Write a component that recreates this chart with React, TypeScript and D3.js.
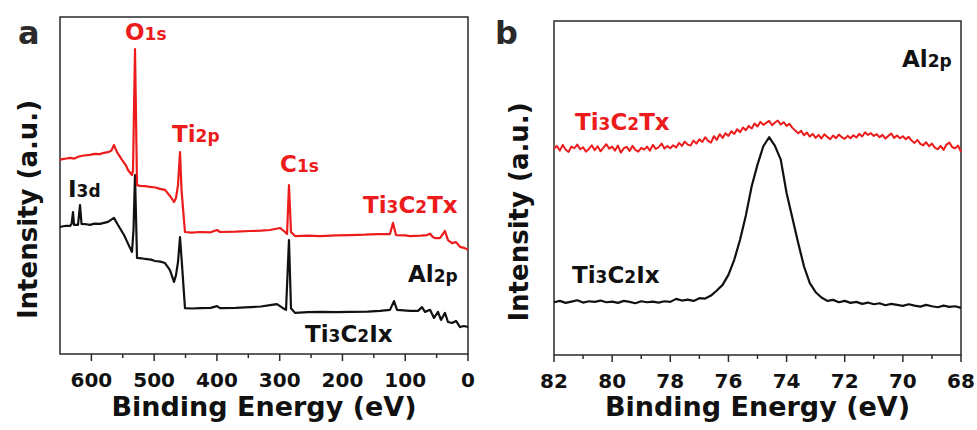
import React from "react";
import * as d3 from "d3";

// survey spectra (binding energy eV, intensity a.u.)
const surveyTx: [number, number][] = [
  [650, 57.6], [645, 57.9], [640.4, 58.0], [634.1, 58.2], [627, 58.0], [620, 58.6], [612, 58.9], [602.2, 59.1],
  [595, 59.4], [586.3, 59.3], [580, 59.7], [573.5, 59.9], [568, 60.4], [564.0, 62.0], [559.2, 59.9],
  [551.2, 57.6], [545, 56.0], [541.7, 54.6], [535.3, 53.1], [533.7, 54.5], [530.5, 90.5], [527.3, 50.1],
  [522.6, 49.9], [515, 49.8], [506.6, 49.6], [498, 49.4], [490.7, 49.0], [482.7, 48.7], [474.8, 46.9],
  [468.4, 45.1], [465.2, 46.3], [462.0, 50.1], [458.8, 59.9], [456.4, 48.7], [453.5, 42.0], [450.9, 36.2],
  [440, 36.0], [426.9, 36.2], [410, 36.1], [399.9, 36.8], [395.1, 36.2], [370, 36.3], [347.3, 36.5],
  [330, 36.6], [315.4, 36.8], [299.5, 37.4], [291.5, 36.2], [288.3, 35.6], [285.2, 50.1], [282.0, 36.2],
  [275.6, 35.0], [255, 35.1], [235.8, 35.0], [210, 35.2], [188.0, 35.3], [165, 35.4], [145.0, 35.6],
  [124.3, 35.6], [119.5, 38.9], [114.7, 35.3], [100, 35.2], [92.4, 35.0], [75, 35.1], [65.3, 35.3],
  [60.5, 35.7], [56, 34.7], [52.6, 34.4], [44.6, 34.4], [36.7, 36.5], [31.9, 33.8], [25.5, 32.9],
  [19.1, 33.2], [12.7, 31.8], [6.4, 31.5], [0, 30.9],
];

const surveyIx: [number, number][] = [
  [650, 37.7], [645, 37.9], [640.4, 38.0], [634.1, 38.0], [631.5, 38.6], [629.3, 42.1], [627.7, 38.3],
  [621.3, 38.3], [618.1, 44.2], [615.7, 38.6], [608, 38.5], [602.2, 38.3], [595, 38.7], [586.3, 38.6],
  [580, 38.9], [573.5, 39.2], [564.0, 40.4], [557.6, 38.3], [548.0, 35.3], [538.5, 31.5], [535.3, 30.3],
  [532.9, 36.8], [530.5, 53.1], [527.3, 28.5], [520, 28.4], [514.6, 28.2], [505, 28.0], [498.7, 27.6],
  [490, 27.4], [482.7, 27.0], [474.8, 24.9], [468.4, 21.4], [465.2, 23.4], [462.0, 27.3], [458.8, 34.7],
  [455.6, 26.4], [450.9, 13.6], [440, 13.5], [426.9, 13.6], [410, 13.7], [399.9, 14.2], [395.1, 13.6],
  [370, 13.7], [347.3, 13.9], [330, 14.1], [315.4, 14.5], [304.3, 14.8], [294.7, 13.6], [289.9, 13.1],
  [285.2, 33.8], [282.0, 13.6], [275.6, 12.2], [255, 12.4], [235.8, 12.5], [210, 12.4], [188.0, 12.5],
  [160, 12.6], [140.2, 12.8], [124.3, 13.1], [117.9, 15.7], [113.1, 13.1], [92.4, 12.8], [79.7, 12.8],
  [73.3, 13.9], [68.5, 12.5], [60.5, 13.1], [54.2, 10.7], [47.8, 12.5], [43.0, 10.1], [36.7, 12.2],
  [31.9, 9.5], [25.5, 9.2], [19.1, 9.8], [12.7, 8.0], [6.4, 8.3], [0, 8.0],
];

// Al 2p region
const al2pTxStart = 82;
const al2pTxStep = 0.1;
const al2pTx = [
  61.8, 62.6, 61.2, 62.9, 61.5, 60.8, 62.4, 61.9, 63.0, 61.6, 62.2, 60.9, 61.7, 62.8, 61.3, 62.5, 61.0, 62.1, 63.1, 61.8, 62.4,
  61.2, 62.7, 60.6, 61.9, 62.3, 61.1, 62.6, 61.4, 60.9, 62.0, 61.5, 62.4, 61.2, 62.9, 61.7, 62.2, 63.3, 61.8, 62.6, 61.9,
  62.8, 62.1, 63.5, 62.6, 63.9, 63.0, 62.7, 64.2, 63.3, 64.6, 63.8, 65.2, 64.1, 63.6, 65.5, 64.4, 66.1, 65.0, 66.4, 65.6,
  67.0, 66.2, 67.6, 66.7, 68.1, 67.3, 68.6, 67.8, 69.3, 68.4, 69.8, 68.9, 69.5, 70.1, 68.8, 69.6, 70.2, 69.0, 69.7, 68.6,
  69.2, 68.0, 67.2, 66.4, 67.1, 65.8, 66.6, 65.4, 66.2, 65.0, 65.9, 64.8, 66.1, 65.3, 64.6, 65.7, 64.9, 66.0, 65.2, 64.7,
  65.6, 64.9, 65.8, 65.1, 66.2, 65.4, 66.7, 65.9, 66.4, 65.6, 66.1, 65.2, 65.9, 64.8, 65.6, 66.3, 65.0, 65.7, 64.9, 65.5,
  64.6, 65.3, 64.2, 63.5, 64.4, 63.2, 62.8, 63.7, 62.5, 63.3, 62.1, 61.6, 62.6, 61.4, 63.0, 63.6, 62.2, 61.9, 62.7, 60.8,
];

const al2pIxStart = 82;
const al2pIxStep = 0.2;
const al2pIx = [
  15.8, 16.2, 15.6, 16.0, 16.4, 15.7, 16.1, 15.9, 16.3, 15.8, 16.0, 15.6, 16.2, 15.9, 15.5, 16.1, 15.8, 16.0, 15.7, 16.1, 15.9,
  16.8, 16.3, 16.6, 16.2, 17.0, 16.9, 17.8, 19.3, 21.0, 24.0,
  28.5, 34.5, 41.8, 50.5, 57.0, 62.5, 65.2, 62.6, 58.5, 48.5,
  41.0, 33.5, 26.5, 21.5, 18.8, 17.2, 16.2, 16.5, 15.8, 16.2,
  15.6, 15.9, 15.3, 15.7, 15.2, 15.5, 14.9, 15.3, 15.0, 14.7,
  15.2, 14.8, 14.5, 15.0, 14.6, 14.3, 14.8, 14.4, 14.6, 14.1,
];

const surveyTicks = [600, 500, 400, 300, 200, 100, 0];
const al2pTicks = [82, 80, 78, 76, 74, 72, 70, 68];

const RED = "#ec1c1c";
const FONT = "'DejaVu Sans', 'Liberation Sans', Arial, sans-serif";

type Part = [string, boolean];
const Label = ({ x, y, parts, color, big = 23, small = 17 }:
  { x: number; y: number; parts: Part[]; color: string; big?: number; small?: number }) => (
  <text x={x} y={y} fill={color} fontFamily={FONT} fontWeight="bold">
    {parts.map((p, i) => (
      <tspan key={i} fontSize={p[1] ? small : big}>{p[0]}</tspan>
    ))}
  </text>
);

const TX: Part[] = [["Ti", false], ["3", true], ["C", false], ["2", true], ["Tx", false]];
const IX: Part[] = [["Ti", false], ["3", true], ["C", false], ["2", true], ["Ix", false]];
const AL: Part[] = [["Al", false], ["2p", true]];

const Frame = ({ x, y, ticks, minor, titleY, yTitleX }: any) => {
  const [x0, x1] = x.range();
  const [y0, y1] = y.range();
  return (
    <g>
      <rect x={x0} y={y1} width={x1 - x0} height={y0 - y1} fill="none" stroke="#2a2a2a" strokeWidth={1.5} />
      {minor.map((t: number) => (
        <line key={"m" + t} x1={x(t)} x2={x(t)} y1={y0} y2={y0 + 4} stroke="#2a2a2a" strokeWidth={1.5} />
      ))}
      {ticks.map((t: number) => (
        <g key={t}>
          <line x1={x(t)} x2={x(t)} y1={y0} y2={y0 + 7} stroke="#2a2a2a" strokeWidth={1.5} />
          <text x={x(t)} y={y0 + 33} textAnchor="middle" fontFamily={FONT} fontWeight="bold" fontSize={20} fill="#111">
            {t}
          </text>
        </g>
      ))}
      <text x={(x0 + x1) / 2} y={titleY} textAnchor="middle" fontFamily={FONT} fontWeight="bold" fontSize={27} fill="#111">
        Binding Energy (eV)
      </text>
      <text transform={`translate(${yTitleX},${(y0 + y1) / 2 + 24}) rotate(-90)`} textAnchor="middle"
        fontFamily={FONT} fontWeight="bold" fontSize={26} fill="#111">
        Intensity (a.u.)
      </text>
    </g>
  );
};

export default function App() {
  // panel a
  const xa = d3.scaleLinear().domain([650, 0]).range([60, 468]);
  const ya = d3.scaleLinear().domain([0, 100]).range([354, 17]);
  const lineA = d3.line<[number, number]>().x(d => xa(d[0])).y(d => ya(d[1]));

  // panel b
  const xb = d3.scaleLinear().domain([82, 68]).range([554, 961]);
  const yb = d3.scaleLinear().domain([0, 100]).range([355, 21]);
  const txPts: [number, number][] = al2pTx.map((v, i) => [al2pTxStart - i * al2pTxStep, v]);
  const ixPts: [number, number][] = al2pIx.map((v, i) => [al2pIxStart - i * al2pIxStep, v]);
  const lineB = d3.line<[number, number]>().x(d => xb(d[0])).y(d => yb(d[1]));

  const minorA = d3.range(50, 650, 100);
  const minorB = [81, 79, 77, 75, 73, 71, 69];

  return (
    <svg width={977} height={430} style={{ position: "absolute", left: 0, top: 0, background: "#fff" }}>
      <rect width={977} height={430} fill="#fff" />
      {/* panel a */}
      <Frame x={xa} y={ya} ticks={surveyTicks} minor={minorA} titleY={416} yTitleX={37} />
      <path d={lineA(surveyIx) || ""} fill="none" stroke="#111" strokeWidth={2.2} strokeLinejoin="round" />
      <path d={lineA(surveyTx) || ""} fill="none" stroke={RED} strokeWidth={2.2} strokeLinejoin="round" />
      <text x={18} y={44} fontFamily={FONT} fontWeight="bold" fontSize={32} fill="#2a2a2a">a</text>
      <Label x={125} y={40} color={RED} parts={[["O", false], ["1s", true]]} />
      <Label x={172} y={142} color={RED} parts={[["Ti", false], ["2p", true]]} />
      <Label x={280} y={172} color={RED} parts={[["C", false], ["1s", true]]} />
      <Label x={363} y={213} color={RED} parts={TX} />
      <Label x={68} y={197} color="#111" parts={[["I", false], ["3d", true]]} />
      <Label x={408} y={282} color="#111" parts={AL} />
      <Label x={305} y={342} color="#111" parts={IX} />

      {/* panel b */}
      <Frame x={xb} y={yb} ticks={al2pTicks} minor={minorB} titleY={416} yTitleX={528} />
      <path d={lineB(ixPts) || ""} fill="none" stroke="#111" strokeWidth={2.2} strokeLinejoin="round" />
      <path d={lineB(txPts) || ""} fill="none" stroke={RED} strokeWidth={2} strokeLinejoin="round" />
      <text x={495} y={44} fontFamily={FONT} fontWeight="bold" fontSize={32} fill="#2a2a2a">b</text>
      <Label x={902} y={67} color="#111" parts={AL} />
      <Label x={575} y={130} color={RED} parts={TX} />
      <Label x={572} y={283} color="#111" parts={IX} />
    </svg>
  );
}
